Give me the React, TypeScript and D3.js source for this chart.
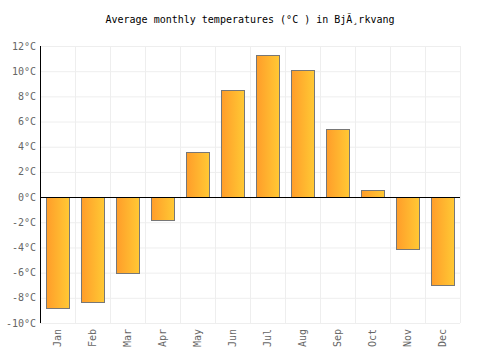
import React from "react";
import * as d3 from "d3";

const months = ["Jan", "Feb", "Mar", "Apr", "May", "Jun", "Jul", "Aug", "Sep", "Oct", "Nov", "Dec"];
const temps = [-8.8, -8.3, -6.0, -1.8, 3.6, 8.5, 11.3, 10.1, 5.4, 0.6, -4.1, -7.0];
const yTicks = [-10, -8, -6, -4, -2, 0, 2, 4, 6, 8, 10, 12];

const title = "Average monthly temperatures (\u00B0C ) in Bj\u00C3\u00B8rkvang";

export default function App() {
  const width = 500;
  const height = 350;
  const margin = { top: 46, right: 40, bottom: 27, left: 40 };
  const w = width - margin.left - margin.right;
  const h = height - margin.top - margin.bottom;

  const x = d3.scaleBand().domain(months).range([0, w]).paddingInner(0.34).paddingOuter(0.17);
  const y = d3.scaleLinear().domain([-10, 12]).range([h, 0]);
  const step = x.step();
  const font = "'DejaVu Sans Mono', monospace";

  return (
    <svg
      width={width}
      height={height}
      style={{ position: "absolute", left: 0, top: 0, background: "#fff" }}
    >
      <defs>
        <linearGradient id="barGrad" x1="0" x2="1" y1="0" y2="0">
          <stop offset="0%" stopColor="#ff9d2a" />
          <stop offset="100%" stopColor="#ffc934" />
        </linearGradient>
      </defs>
      <text
        x={width / 2}
        y={23}
        textAnchor="middle"
        fontFamily={font}
        fontSize={10}
        fill="#000"
      >
        {title}
      </text>
      <g transform={`translate(${margin.left},${margin.top})`}>
        {/* horizontal grid */}
        {yTicks.map((t) => (
          <line key={"h" + t} x1={0} x2={w} y1={y(t) + 0.5} y2={y(t) + 0.5} stroke="#eeeeee" />
        ))}
        {/* vertical grid */}
        {d3.range(months.length + 1).map((i) => (
          <line
            key={"v" + i}
            x1={Math.round(i * step) + 0.5}
            x2={Math.round(i * step) + 0.5}
            y1={0}
            y2={h}
            stroke="#eeeeee"
          />
        ))}
        {/* bars */}
        {months.map((m, i) => {
          const v = temps[i];
          const y0 = Math.round(y(Math.max(0, v)));
          const y1 = Math.round(y(Math.min(0, v)));
          return (
            <rect
              key={m}
              x={Math.round(x(m)!) + 0.5}
              y={y0 + 0.5}
              width={Math.round(x.bandwidth())}
              height={y1 - y0}
              fill="url(#barGrad)"
              stroke="#777"
              strokeWidth={1}
            />
          );
        })}
        {/* zero line */}
        <line x1={0} x2={w} y1={Math.round(y(0)) + 0.5} y2={Math.round(y(0)) + 0.5} stroke="#000" />
        {/* left axis */}
        <line x1={0.5} x2={0.5} y1={0} y2={h} stroke="#000" />
        {yTicks.map((t) => (
          <text
            key={"yl" + t}
            x={-4}
            y={y(t)}
            dy="0.35em"
            textAnchor="end"
            fontFamily={font}
            fontSize={10}
            fill="#666"
          >
            {t + "\u00B0C"}
          </text>
        ))}
        {months.map((m) => (
          <text
            key={"xl" + m}
            transform={`translate(${x(m)! + x.bandwidth() / 2},${h + 6}) rotate(-90)`}
            dy="0.35em"
            textAnchor="end"
            fontFamily={font}
            fontSize={10}
            fill="#666"
          >
            {m}
          </text>
        ))}
      </g>
    </svg>
  );
}
